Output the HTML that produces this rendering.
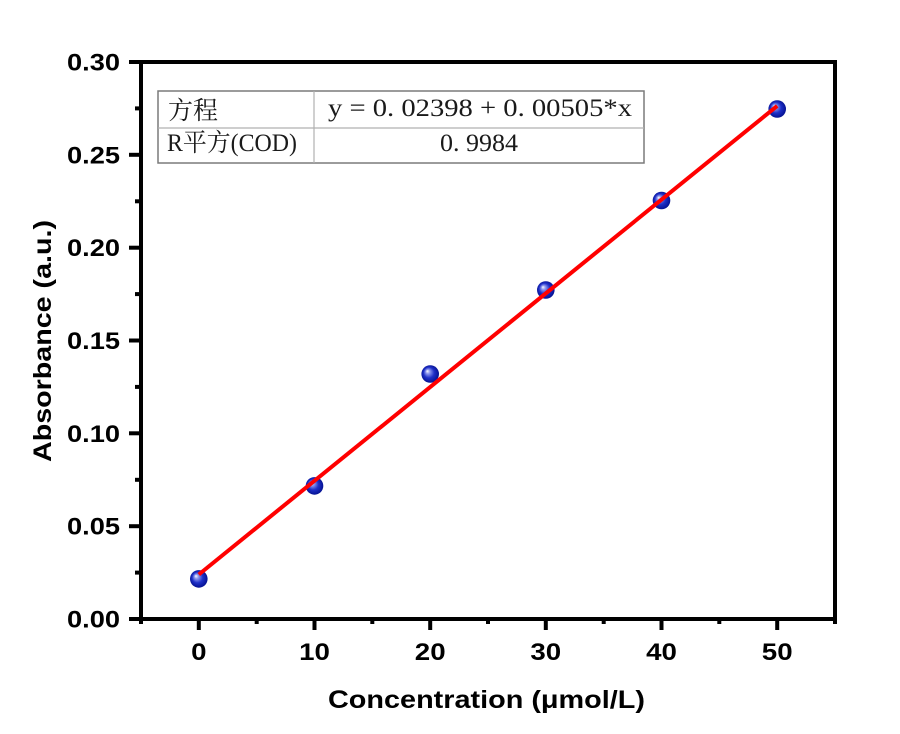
<!DOCTYPE html>
<html><head><meta charset="utf-8"><style>
html,body{margin:0;padding:0;background:#fff;}
svg{display:block;}
</style></head><body>
<svg width="900" height="734" viewBox="0 0 900 734" xmlns="http://www.w3.org/2000/svg">
<defs>
<radialGradient id="ball" cx="0.5" cy="0.5" r="0.55" fx="0.33" fy="0.33">
<stop offset="0" stop-color="#ffffff"/>
<stop offset="0.22" stop-color="#8c96ee"/>
<stop offset="0.55" stop-color="#1f30c8"/>
<stop offset="1" stop-color="#000c88"/>
</radialGradient>
</defs>
<rect width="900" height="734" fill="#fff"/>

<!-- table -->
<g>
<rect x="158" y="91" width="486" height="72" fill="#fff" stroke="#7a7a7a" stroke-width="1.5"/>
<line x1="158" y1="128" x2="644" y2="128" stroke="#b0b0b0" stroke-width="1.2"/>
<line x1="314" y1="91" x2="314" y2="163" stroke="#b0b0b0" stroke-width="1.2"/>
<g font-family="'Liberation Serif','Noto Serif CJK SC',serif" font-size="25" fill="#1a1a1a">
<text x="168" y="119" textLength="50" lengthAdjust="spacingAndGlyphs">方程</text>
<text x="328" y="116" textLength="304" lengthAdjust="spacingAndGlyphs">y = 0. 02398 + 0. 00505*x</text>
<text x="167" y="151" textLength="130" lengthAdjust="spacingAndGlyphs">R平方(COD)</text>
<text x="440" y="151" textLength="78" lengthAdjust="spacingAndGlyphs">0. 9984</text>
</g>
</g>

<!-- axes frame -->
<rect x="141" y="62" width="694" height="557" fill="none" stroke="#000" stroke-width="4"/>

<!-- y ticks -->
<g stroke="#000" stroke-width="4">
<line x1="129" y1="62" x2="141" y2="62"/>
<line x1="129" y1="154.8" x2="141" y2="154.8"/>
<line x1="129" y1="247.7" x2="141" y2="247.7"/>
<line x1="129" y1="340.5" x2="141" y2="340.5"/>
<line x1="129" y1="433.3" x2="141" y2="433.3"/>
<line x1="129" y1="526.2" x2="141" y2="526.2"/>
<line x1="129" y1="619" x2="141" y2="619"/>
<line x1="135" y1="108.4" x2="141" y2="108.4"/>
<line x1="135" y1="201.3" x2="141" y2="201.3"/>
<line x1="135" y1="294.1" x2="141" y2="294.1"/>
<line x1="135" y1="386.9" x2="141" y2="386.9"/>
<line x1="135" y1="479.8" x2="141" y2="479.8"/>
<line x1="135" y1="572.6" x2="141" y2="572.6"/>
</g>
<!-- x ticks -->
<g stroke="#000" stroke-width="4">
<line x1="198.8" y1="619" x2="198.8" y2="630"/>
<line x1="314.5" y1="619" x2="314.5" y2="630"/>
<line x1="430.2" y1="619" x2="430.2" y2="630"/>
<line x1="545.8" y1="619" x2="545.8" y2="630"/>
<line x1="661.5" y1="619" x2="661.5" y2="630"/>
<line x1="777.2" y1="619" x2="777.2" y2="630"/>
<line x1="141" y1="619" x2="141" y2="624"/>
<line x1="256.7" y1="619" x2="256.7" y2="624"/>
<line x1="372.3" y1="619" x2="372.3" y2="624"/>
<line x1="488" y1="619" x2="488" y2="624"/>
<line x1="603.7" y1="619" x2="603.7" y2="624"/>
<line x1="719.3" y1="619" x2="719.3" y2="624"/>
<line x1="835" y1="619" x2="835" y2="624"/>
</g>

<!-- tick labels -->
<g font-family="'Liberation Sans',Arial,sans-serif" font-weight="bold" font-size="24" fill="#000">
<text x="67" y="70.5" textLength="53" lengthAdjust="spacingAndGlyphs">0.30</text>
<text x="67" y="163.3" textLength="53" lengthAdjust="spacingAndGlyphs">0.25</text>
<text x="67" y="256.2" textLength="53" lengthAdjust="spacingAndGlyphs">0.20</text>
<text x="67" y="349" textLength="53" lengthAdjust="spacingAndGlyphs">0.15</text>
<text x="67" y="441.8" textLength="53" lengthAdjust="spacingAndGlyphs">0.10</text>
<text x="67" y="534.7" textLength="53" lengthAdjust="spacingAndGlyphs">0.05</text>
<text x="67" y="627.5" textLength="53" lengthAdjust="spacingAndGlyphs">0.00</text>
</g>
<g font-family="'Liberation Sans',Arial,sans-serif" font-weight="bold" font-size="24" fill="#000">
<text x="191.1" y="660" textLength="15.4" lengthAdjust="spacingAndGlyphs">0</text>
<text x="299.1" y="660" textLength="30.8" lengthAdjust="spacingAndGlyphs">10</text>
<text x="414.8" y="660" textLength="30.8" lengthAdjust="spacingAndGlyphs">20</text>
<text x="530.4" y="660" textLength="30.8" lengthAdjust="spacingAndGlyphs">30</text>
<text x="646.1" y="660" textLength="30.8" lengthAdjust="spacingAndGlyphs">40</text>
<text x="761.8" y="660" textLength="30.8" lengthAdjust="spacingAndGlyphs">50</text>
</g>

<!-- axis titles -->
<text x="328" y="708" font-family="'Liberation Sans',Arial,sans-serif" font-weight="bold" font-size="25" fill="#000" textLength="317" lengthAdjust="spacingAndGlyphs">Concentration (μmol/L)</text>
<text transform="translate(51,462) rotate(-90)" x="0" y="0" font-family="'Liberation Sans',Arial,sans-serif" font-weight="bold" font-size="25" fill="#000" textLength="242" lengthAdjust="spacingAndGlyphs">Absorbance (a.u.)</text>

<!-- points -->
<g fill="url(#ball)">
<circle cx="198.8" cy="578.9" r="8.8"/>
<circle cx="314.5" cy="485.9" r="8.8"/>
<circle cx="430.2" cy="374" r="8.8"/>
<circle cx="545.8" cy="290" r="8.8"/>
<circle cx="661.5" cy="200.5" r="8.8"/>
<circle cx="777.2" cy="109" r="8.8"/>
</g>

<!-- fit line -->
<line x1="198.8" y1="574.5" x2="777.2" y2="105.9" stroke="#ff0000" stroke-width="4"/>
</svg>
</body></html>
